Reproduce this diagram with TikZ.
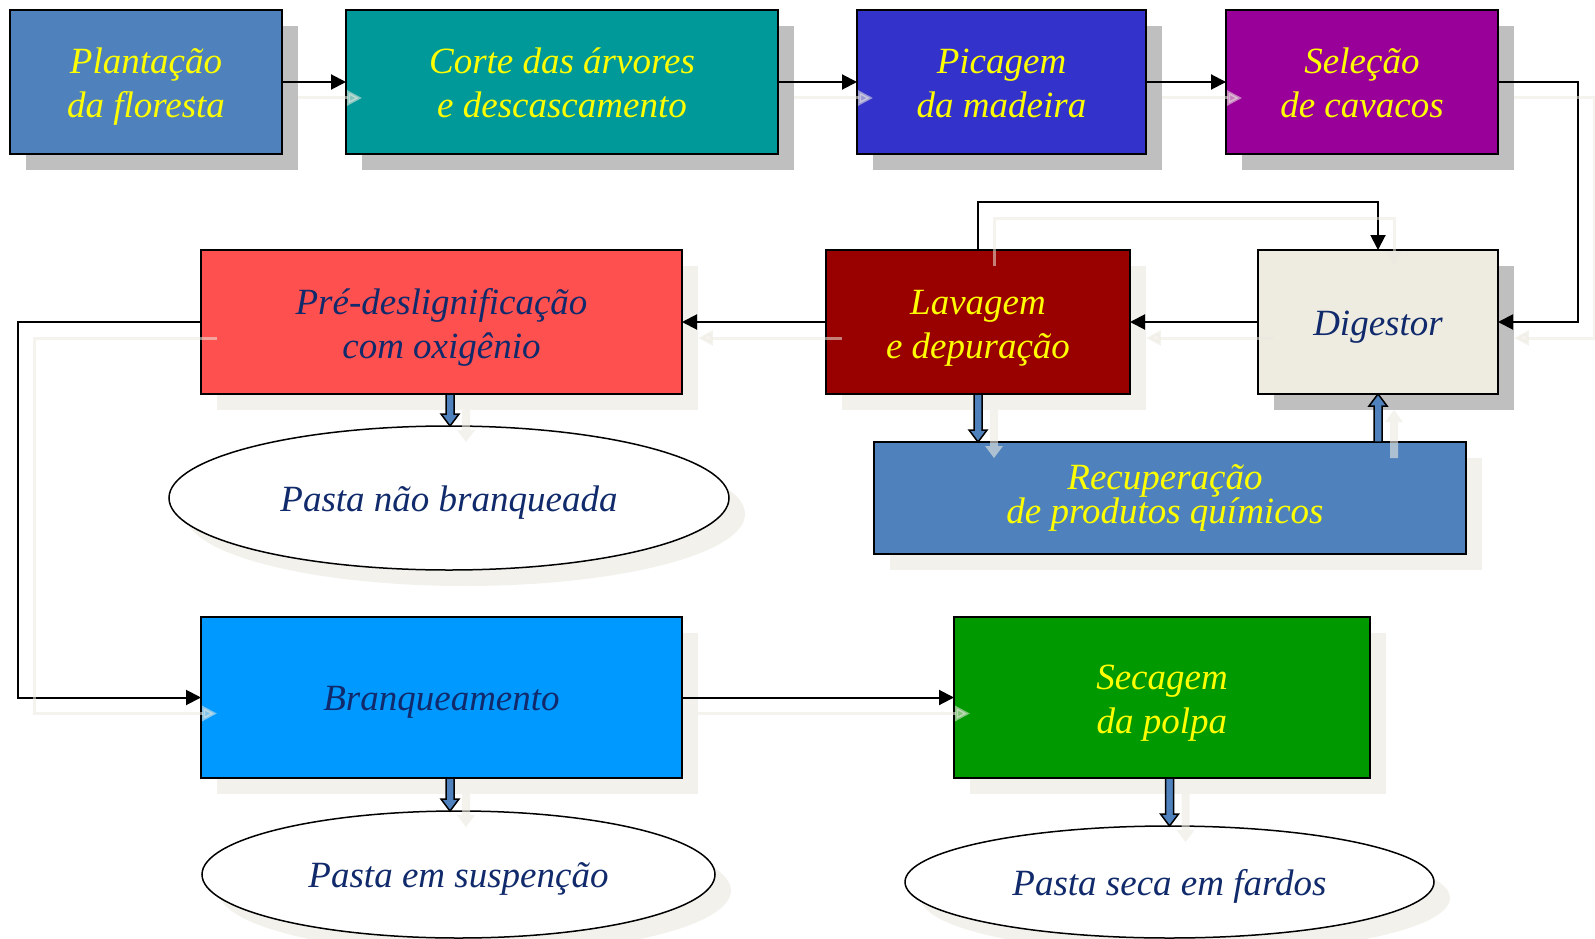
\documentclass[tikz,border=0pt]{standalone}
\usepackage{fontspec}
\setmainfont{Liberation Serif}
\usetikzlibrary{arrows.meta,calc,shapes.geometric}
\pgfdeclarelayer{bg}
\pgfsetlayers{bg,main}
\definecolor{cPlant}{HTML}{4F81BD}
\definecolor{cCorte}{HTML}{009999}
\definecolor{cPica}{HTML}{3333CC}
\definecolor{cSele}{HTML}{990099}
\definecolor{cDige}{HTML}{EEECE1}
\definecolor{cLava}{HTML}{990000}
\definecolor{cPre}{HTML}{FF5050}
\definecolor{cBranq}{HTML}{0099FF}
\definecolor{cSeca}{HTML}{009900}
\definecolor{cNavy}{HTML}{102A6B}
\definecolor{cYel}{HTML}{FFFF00}
\definecolor{shGray}{HTML}{BFBFBF}
\definecolor{shLight}{HTML}{F2F1EC}
\definecolor{shConn}{HTML}{ECEAE0}
\newcommand\lns[1]{\parbox[t]{800pt}{\centering\lineskiplimit=-\maxdimen\relax #1}}
% block arrow: #1 style, #2 tail, #3 tip, #4 head offset
\newcommand\bkar[4]{%
  \path[#1] ($(#2)+(-4,0)$) -- ($(#3)+(-4,#4)$) -- ($(#3)+(-9,#4)$) -- (#3)
    -- ($(#3)+(9,#4)$) -- ($(#3)+(4,#4)$) -- ($(#2)+(4,0)$) -- cycle;}
\begin{document}
\begin{tikzpicture}[x=1pt,y=-1pt,
  every node/.style={inner sep=0pt, outer sep=0pt},
  box/.style={rectangle, draw=black, line width=1.8pt},
  ell/.style={ellipse, draw=black, line width=1.5pt, fill=white},
  txt/.style={font=\fontsize{37}{44}\selectfont\itshape},
  ytxt/.style={txt, text=cYel},
  ntxt/.style={txt, text=cNavy},
  one/.style={text height=30pt, text depth=4pt},
  two/.style={text height=30pt, text depth=46pt},
  conn/.style={draw=black, line width=2pt, -{Triangle[length=15pt,width=15pt]}},
  sconn/.style={draw=shConn, line width=3pt, -{Triangle[length=15pt,width=15pt]}, opacity=.55},
  blk/.style={fill=cPlant, draw=black, line width=1.5pt, line join=miter},
  sblk/.style={fill=shConn, opacity=.6},
]
\useasboundingbox (0,0) rectangle (1595,939);

% boxes
\node[box, fill=cPlant, minimum width=272pt, minimum height=144pt] (plant) at (146,82) {};
\node[box, fill=cCorte, minimum width=432pt, minimum height=144pt] (corte) at (562,82) {};
\node[box, fill=cPica, minimum width=289pt, minimum height=144pt] (pica) at (1001.5,82) {};
\node[box, fill=cSele, minimum width=272pt, minimum height=144pt] (sele) at (1362,82) {};
\node[box, fill=cDige, minimum width=240pt, minimum height=144pt] (dige) at (1378,322) {};
\node[box, fill=cLava, minimum width=304pt, minimum height=144pt] (lava) at (978,322) {};
\node[box, fill=cPre, minimum width=481pt, minimum height=144pt] (pre) at (441.5,322) {};
\node[box, fill=cPlant, minimum width=592pt, minimum height=112pt] (recu) at (1170,498) {};
\node[box, fill=cBranq, minimum width=481pt, minimum height=161pt] (branq) at (441.5,697.5) {};
\node[box, fill=cSeca, minimum width=416pt, minimum height=161pt] (seca) at (1162,697.5) {};
\node[ell, minimum width=560pt, minimum height=144pt] (pnb) at (449,498) {};
\node[ell, minimum width=513pt, minimum height=127pt] (pes) at (458.5,874.5) {};
\node[ell, minimum width=529pt, minimum height=112pt] (psf) at (1169.5,882) {};

% texts
\node[ytxt, two] (plantT) at (plant.center) {\lns{Plantação\\da floresta}};
\node[ytxt, two] (corteT) at (corte.center) {\lns{Corte das árvores\\e descascamento}};
\node[ytxt, two] (picaT) at (pica.center) {\lns{Picagem\\da madeira}};
\node[ytxt, two] (seleT) at (sele.center) {\lns{Seleção\\de cavacos}};
\node[ntxt, one] (digeT) at (dige.center) {Digestor};
\node[ytxt, two] (lavaT) at (lava.center) {\lns{Lavagem\\e depuração}};
\node[ntxt, two] (preT) at (pre.center) {\lns{Pré-deslignificação\\com oxigênio}};
\node[ytxt, font=\fontsize{37}{34}\selectfont\itshape, text height=30pt, text depth=48pt] (recuT) at ($(recu.center)+(-5,0)$) {\lns{Recuperação\\de produtos químicos}};
\node[ntxt, one] (branqT) at (branq.center) {Branqueamento};
\node[ytxt, two] (secaT) at (seca.center) {\lns{Secagem\\da polpa}};
\node[ntxt, one] (pnbT) at (pnb.center) {Pasta não branqueada};
\node[ntxt, one] (pesT) at (pes.center) {Pasta em suspenção};
\node[ntxt, one] (psfT) at (psf.center) {Pasta seca em fardos};

% shadows
\begin{pgfonlayer}{bg}
\foreach \n in {plant,corte,pica,sele,dige}
  \fill[shGray] ($(\n.south west)+(16,16)$) rectangle ($(\n.north east)+(16,16)$);
\foreach \n in {lava,pre,recu,branq,seca}
  \fill[shLight] ($(\n.south west)+(16,16)$) rectangle ($(\n.north east)+(16,16)$);
\fill[shLight] ($(pnb.center)+(16,16)$) ellipse [x radius=280pt, y radius=72pt];
\fill[shLight] ($(pes.center)+(16,16)$) ellipse [x radius=256.5pt, y radius=63.5pt];
\fill[shLight] ($(psf.center)+(16,16)$) ellipse [x radius=264.5pt, y radius=56pt];
\end{pgfonlayer}

% connectors
\draw[conn] (plant.east) -- (corte.west);
\draw[conn] (corte.east) -- (pica.west);
\draw[conn] (pica.east) -- (sele.west);
\draw[conn] (sele.east) -- ++(80,0) |- (dige.east);
\draw[conn] (dige.west) -- (lava.east);
\draw[conn] (lava.west) -- (pre.east);
\draw[conn] (lava.north) -- ++(0,-48) -| (dige.north);
\draw[conn] (pre.west) -- ++(-183,0) |- (branq.west);
\draw[conn] (branq.east) -- (seca.west);

% block arrows
\coordinate (a1s) at ($(pre.south)+(8.5,0)$);
\coordinate (a1e) at (a1s |- pnb.north);
\coordinate (a2s) at ($(branq.south)+(8.5,0)$);
\coordinate (a2e) at (a2s |- pes.north);
\coordinate (a3s) at (lava.south);
\coordinate (a3e) at (lava.south |- recu.north);
\coordinate (a4s) at (dige.south |- recu.north);
\coordinate (a4e) at (dige.south);
\coordinate (a5s) at (psf.north |- seca.south);
\coordinate (a5e) at (psf.north);
\bkar{blk}{a1s}{a1e}{-12}
\bkar{blk}{a2s}{a2e}{-12}
\bkar{blk}{a3s}{a3e}{-12}
\bkar{blk}{a4s}{a4e}{12}
\bkar{blk}{a5s}{a5e}{-12}

% shadow connectors
\begin{scope}[transform canvas={shift={(16pt,-16pt)}}]
\draw[sconn] (plant.east) -- (corte.west);
\draw[sconn] (corte.east) -- (pica.west);
\draw[sconn] (pica.east) -- (sele.west);
\draw[sconn] (sele.east) -- ++(80,0) |- (dige.east);
\draw[sconn] (dige.west) -- (lava.east);
\draw[sconn] (lava.west) -- (pre.east);
\draw[sconn] (lava.north) -- ++(0,-48) -| (dige.north);
\draw[sconn] (pre.west) -- ++(-183,0) |- (branq.west);
\draw[sconn] (branq.east) -- (seca.west);
\bkar{sblk}{a1s}{a1e}{-12}
\bkar{sblk}{a2s}{a2e}{-12}
\bkar{sblk}{a3s}{a3e}{-12}
\bkar{sblk}{a4s}{a4e}{12}
\bkar{sblk}{a5s}{a5e}{-12}
\end{scope}
\end{tikzpicture}
\end{document}
